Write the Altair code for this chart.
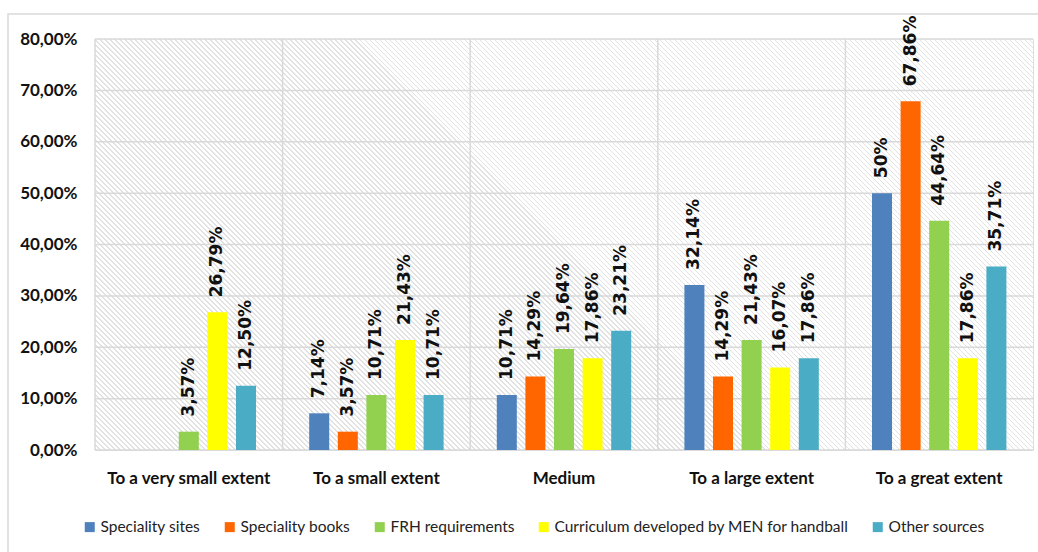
import altair as alt
import pandas as pd

categories = ["To a very small extent", "To a small extent", "Medium", "To a large extent", "To a great extent"]
series = ["Speciality sites", "Speciality books", "FRH requirements",
          "Curriculum developed by MEN for handball", "Other sources"]
colors = ["#4F81BD", "#FF6600", "#92D050", "#FFFF00", "#4BACC6"]

speciality_sites = [0, 7.14, 10.71, 32.14, 50.00]
speciality_books = [0, 3.57, 14.29, 14.29, 67.86]
frh_requirements = [3.57, 10.71, 19.64, 21.43, 44.64]
curriculum_men = [26.79, 21.43, 17.86, 16.07, 17.86]
other_sources = [12.50, 10.71, 23.21, 17.86, 35.71]

y_ticks = [0, 10, 20, 30, 40, 50, 60, 70, 80]

values = [speciality_sites, speciality_books, frh_requirements, curriculum_men, other_sources]


def fmt(v):
    if float(v).is_integer():
        return f"{int(v)}%"
    return f"{v:.2f}".replace(".", ",") + "%"


rows = []
for s, vals in zip(series, values):
    for c, v in zip(categories, vals):
        rows.append({"cat": c, "series": s, "value": v, "label": fmt(v)})
df = pd.DataFrame(rows)
labels_df = df[df["value"] > 0]

W, H = 938, 411

# hatch background (diagonal stripes) as a gradient
r = H / W
N = 270
frac = 0.3
gray, white = "#e2e2e2", "#ffffff"
stops = []
for i in range(N):
    t0 = i / N
    t1 = (i + frac) / N
    t2 = (i + 1) / N
    stops += [alt.GradientStop(offset=t0, color=gray), alt.GradientStop(offset=t1, color=gray),
              alt.GradientStop(offset=t1, color=white), alt.GradientStop(offset=min(t2, 1.0), color=white)]
a = (1 + r) / (1 + r * r)
hatch = alt.LinearGradient(gradient="linear", stops=stops, x1=0, y1=1, x2=a, y2=1 - a * r)

blank = alt.Data(values=[{}])

outer = alt.Chart(blank).mark_rect(fill="transparent", stroke="#d9d9d9", strokeWidth=1.5).encode(
    x=alt.value(-87), x2=alt.value(970), y=alt.value(-25), y2=alt.value(540))

bg = alt.Chart(blank).mark_rect(color=hatch).encode(
    x=alt.value(0), x2=alt.value(W), y=alt.value(0), y2=alt.value(H))

xsc = alt.Scale(domain=categories, paddingInner=0, paddingOuter=0)
ysc = alt.Scale(domain=[0, 80], nice=False)
offsc = alt.Scale(paddingInner=0.3, paddingOuter=0.93)

xaxis = alt.Axis(labelFont="Lato", labelFontWeight="bold", labelFontSize=17, labelColor="#111",
                 labelPadding=20, domain=False, ticks=False, grid=False, labelAngle=0, labelLimit=400)
yaxis = alt.Axis(values=y_ticks, labelExpr="replace(format(datum.value, '.2f'), '.', ',') + '%'",
                 labelFont="Lato", labelFontWeight="bold", labelFontSize=17, labelColor="#111",
                 labelPadding=18, domain=False, ticks=False, grid=False)

ygrid = alt.Chart(pd.DataFrame({"value": y_ticks})).mark_rule(color="#d9d9d9", strokeWidth=1.5).encode(
    y=alt.Y("value:Q", scale=ysc, axis=yaxis, title=None), x=alt.value(0), x2=alt.value(W))

xgrid = alt.Chart(pd.DataFrame({"cat": categories})).mark_rule(color="#d9d9d9", strokeWidth=1.5).encode(
    x=alt.X("cat:N", bandPosition=0, scale=xsc, sort=categories, axis=xaxis, title=None),
    y=alt.value(0), y2=alt.value(H))

base = alt.Chart(df)

bars = base.mark_bar().encode(
    x=alt.X("cat:N", sort=categories, scale=xsc, title=None, axis=xaxis),
    xOffset=alt.XOffset("series:N", sort=series, scale=offsc),
    y=alt.Y("value:Q", scale=ysc, title=None, axis=yaxis),
    color=alt.Color("series:N", sort=series, scale=alt.Scale(domain=series, range=colors),
                    legend=alt.Legend(title=None, orient="none", legendX=-13, legendY=480,
                                      direction="horizontal", symbolType="square", symbolSize=100,
                                      symbolStrokeWidth=0, labelFont="Lato", labelFontSize=15.5,
                                      labelColor="#222", labelOffset=3, columnPadding=21,
                                      labelLimit=400)),
)

text = alt.Chart(labels_df).mark_text(angle=270, align="left", baseline="middle", dx=15,
                                      font="DejaVu Sans", fontWeight="bold", fontSize=17,
                                      color="#111").encode(
    x=alt.X("cat:N", sort=categories, scale=xsc, axis=xaxis, title=None),
    xOffset=alt.XOffset("series:N", sort=series, scale=offsc),
    y=alt.Y("value:Q", scale=ysc, axis=yaxis, title=None),
    text="label:N",
)

chart = alt.layer(outer, bg, ygrid, xgrid, bars, text).properties(
    width=W, height=H,
    autosize=alt.AutoSizeParams(type="none"),
    padding={"left": 95, "top": 39, "right": 5, "bottom": 102},
).configure_view(stroke="#d9d9d9", strokeWidth=1.5).configure(background="white")

chart.save("out.html", embed_options={"renderer": "svg", "actions": False})
